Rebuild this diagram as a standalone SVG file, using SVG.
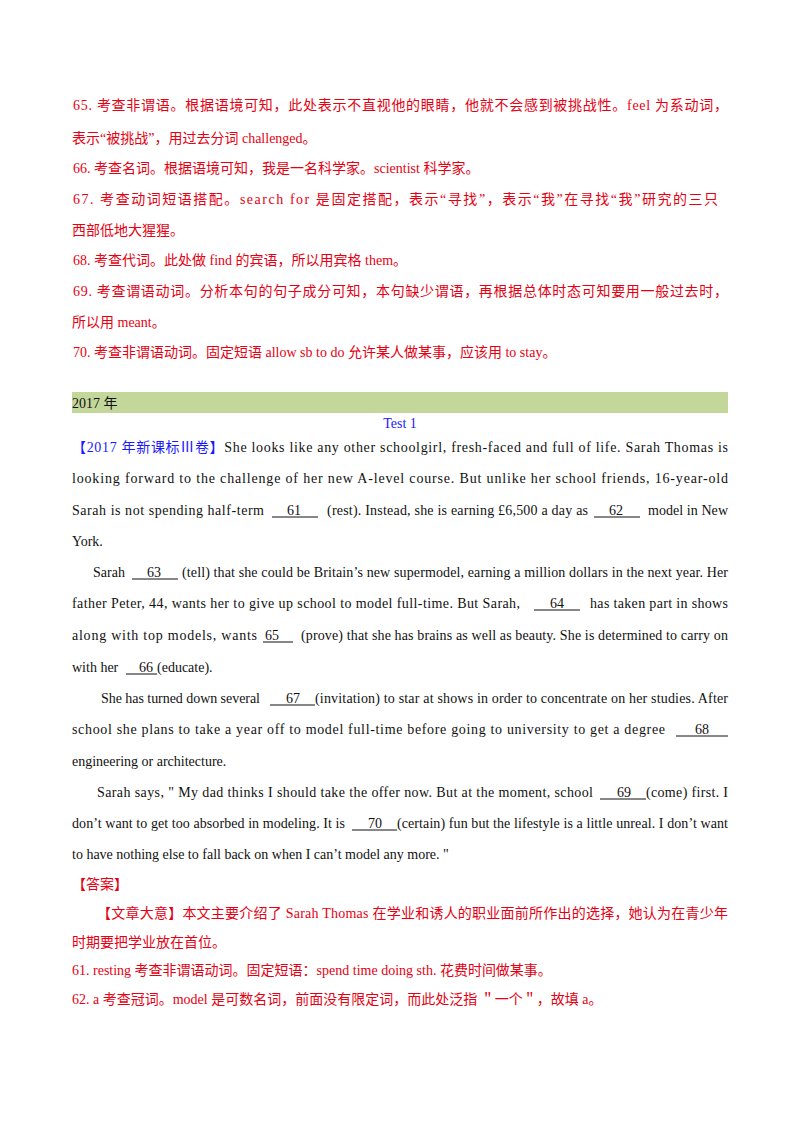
<svg xmlns="http://www.w3.org/2000/svg" width="800" height="1132" viewBox="0 0 800 1132">
<style>
text{font-family:"Liberation Serif","Noto Sans CJK SC",serif;font-size:14px;fill:#111}
.r{fill:#e60012}
.b{fill:#1a1aff}
line{stroke:#111;stroke-width:1}
</style>
<rect width="800" height="1132" fill="#fff"/>
<g id="top">
<text class="r" x="73" y="110" textLength="655" lengthAdjust="spacing">65. 考查非谓语。根据语境可知，此处表示不直视他的眼睛，他就不会感到被挑战性。feel 为系动词，</text>
<text class="r" x="72" y="143">表示“被挑战”，用过去分词 challenged。</text>
<text class="r" x="73" y="173">66. 考查名词。根据语境可知，我是一名科学家。scientist 科学家。</text>
<text class="r" x="73" y="204" textLength="645" lengthAdjust="spacing">67. 考查动词短语搭配。search for 是固定搭配，表示“寻找”，表示“我”在寻找“我”研究的三只</text>
<text class="r" x="72" y="235">西部低地大猩猩。</text>
<text class="r" x="73" y="265">68. 考查代词。此处做 find  的宾语，所以用宾格 them。</text>
<text class="r" x="73" y="296" textLength="655" lengthAdjust="spacing">69. 考查谓语动词。分析本句的句子成分可知，本句缺少谓语，再根据总体时态可知要用一般过去时，</text>
<text class="r" x="72" y="327">所以用 meant。</text>
<text class="r" x="73" y="357">70. 考查非谓语动词。固定短语 allow sb to do 允许某人做某事，应该用 to stay。</text>
</g>
<g id="header">
<rect x="72" y="392" width="656" height="21" fill="#c4d79b"/>
<text x="72" y="408">2017 年</text>
<text class="b" x="400" y="428" text-anchor="middle">Test  1</text>
</g>
<g id="passage">
<text x="72" y="452" textLength="656" lengthAdjust="spacing"><tspan class="b">【2017 年新课标Ⅲ卷】</tspan>She looks like any other schoolgirl, fresh-faced and full of life. Sarah Thomas is</text>
<text x="72" y="483" textLength="656" lengthAdjust="spacing">looking forward to  the  challenge of her new A-level course.  But unlike  her  school friends,  16-year-old</text>
<text x="72" y="515" textLength="192" lengthAdjust="spacing">Sarah is not spending half-term</text>
<line x1="272" y1="517" x2="318" y2="517"/><text x="287" y="515">61</text>
<text x="327" y="515" textLength="261" lengthAdjust="spacing">(rest).  Instead, she is earning £6,500 a day as</text>
<line x1="594" y1="517" x2="640" y2="517"/><text x="609" y="515">62</text>
<text x="648" y="515" textLength="80" lengthAdjust="spacing">model in New</text>
<text x="72" y="546">York.</text>
<text x="93" y="577">Sarah</text>
<line x1="132" y1="579" x2="178" y2="579"/><text x="147" y="577">63</text>
<text x="182" y="577" textLength="546" lengthAdjust="spacing">(tell) that she could be Britain’s new supermodel,  earning a million dollars in the next  year. Her</text>
<text x="72" y="608" textLength="448" lengthAdjust="spacing">father Peter,  44,  wants  her to give up school to model full-time.  But Sarah,</text>
<line x1="534" y1="610" x2="580" y2="610"/><text x="550" y="608">64</text>
<text x="590" y="608" textLength="138" lengthAdjust="spacing">has taken part in shows</text>
<text x="72" y="640" textLength="185" lengthAdjust="spacing">along with top models,  wants</text>
<line x1="263" y1="642" x2="293" y2="642"/><text x="265" y="640">65</text>
<text x="301" y="640" textLength="427" lengthAdjust="spacing">(prove) that she has brains as well as beauty.  She is determined to carry on</text>
<text x="72" y="672">with her</text>
<line x1="126" y1="674" x2="157" y2="674"/><text x="139" y="672">66</text>
<text x="157" y="672">(educate).</text>
<text x="101" y="703" textLength="159" lengthAdjust="spacing">She has turned down several</text>
<line x1="270" y1="705" x2="315" y2="705"/><text x="286" y="703">67</text>
<text x="315" y="703" textLength="413" lengthAdjust="spacing">(invitation) to star at shows in order to concentrate on her studies.  After</text>
<text x="72" y="734" textLength="593" lengthAdjust="spacing">school  she plans to take a year off to model full-time before going to university to get a degree</text>
<line x1="676" y1="736" x2="728" y2="736"/><text x="695" y="734">68</text>
<text x="72" y="766">engineering or architecture.</text>
<text x="97" y="797" textLength="496" lengthAdjust="spacing">Sarah says,    " My dad thinks I should take the offer now. But at the moment, school</text>
<line x1="600" y1="799" x2="646" y2="799"/><text x="617" y="797">69</text>
<text x="646" y="797" textLength="82" lengthAdjust="spacing">(come) first. I</text>
<text x="72" y="828" textLength="273" lengthAdjust="spacing">don’t want to get too absorbed in modeling. It is</text>
<line x1="352" y1="830" x2="397" y2="830"/><text x="368" y="828">70</text>
<text x="397" y="828" textLength="331" lengthAdjust="spacing">(certain) fun but the lifestyle is a little unreal. I don’t want</text>
<text x="72" y="859">to have nothing else to fall back on when I can’t model  any more. "</text>
</g>
<g id="answer">
<text class="r" x="72" y="889">【答案】</text>
<text class="r" x="97" y="918" textLength="631" lengthAdjust="spacing">【文章大意】本文主要介绍了 Sarah  Thomas 在学业和诱人的职业面前所作出的选择，她认为在青少年</text>
<text class="r" x="72" y="947">时期要把学业放在首位。</text>
<text class="r" x="72" y="975">61. resting  考查非谓语动词。固定短语：spend  time  doing  sth. 花费时间做某事。</text>
<text class="r" x="72" y="1004">62.  a  考查冠词。model 是可数名词，前面没有限定词，而此处泛指 ＂一个＂，故填 a。</text>
</g>
</svg>
